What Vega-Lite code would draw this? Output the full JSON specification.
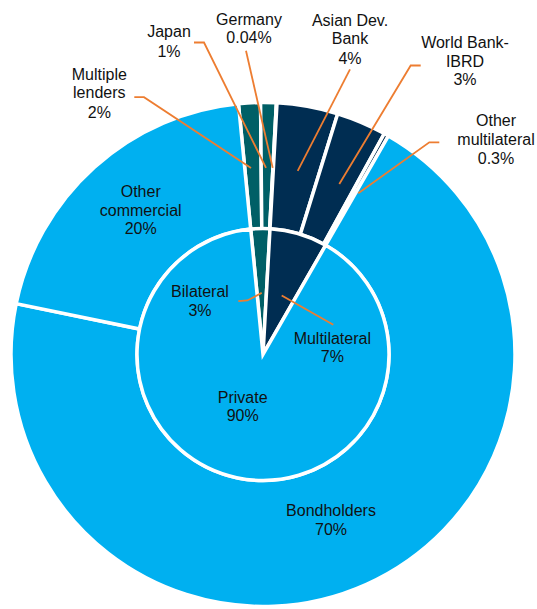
{
  "$schema": "https://vega.github.io/schema/vega-lite/v6.json",
  "width": 537,
  "height": 609,
  "padding": 0,
  "autosize": {"type": "fit", "contains": "padding"},
  "config": {"view": {"stroke": null}, "font": "Liberation Sans"},
  "datasets": {
    "inner": [
      {"name": "Bilateral", "group": "bilateral", "value": 2.44, "ord": 1},
      {"name": "Multilateral", "group": "multilateral", "value": 7.4, "ord": 2},
      {"name": "Private", "group": "private", "value": 90.1, "ord": 3}
    ],
    "outer": [
      {"name": "Multiple lenders", "group": "bilateral", "value": 1.4, "ord": 1},
      {"name": "Japan", "group": "bilateral", "value": 1.0, "ord": 2},
      {"name": "Germany", "group": "bilateral", "value": 0.04, "ord": 3},
      {"name": "Asian Dev. Bank", "group": "multilateral", "value": 3.9, "ord": 4},
      {"name": "World Bank-IBRD", "group": "multilateral", "value": 3.2, "ord": 5},
      {"name": "Other multilateral", "group": "multilateral", "value": 0.3, "ord": 6},
      {"name": "Bondholders", "group": "private", "value": 69.9, "ord": 7},
      {"name": "Other commercial", "group": "private", "value": 20.2, "ord": 8}
    ],
    "labels": [
      {"label": "Germany", "x": -14, "y": 341},
      {"label": "0.04%", "x": -14, "y": 322},
      {"label": "Japan", "x": -94, "y": 328},
      {"label": "1%", "x": -94, "y": 308},
      {"label": "Asian Dev.", "x": 87, "y": 340},
      {"label": "Bank", "x": 87, "y": 321},
      {"label": "4%", "x": 87, "y": 301},
      {"label": "World Bank-", "x": 202, "y": 317.7},
      {"label": "IBRD", "x": 202, "y": 298.3},
      {"label": "3%", "x": 202, "y": 279.3},
      {"label": "Other", "x": 233, "y": 237.7},
      {"label": "multilateral", "x": 233, "y": 218.3},
      {"label": "0.3%", "x": 233, "y": 199.3},
      {"label": "Multiple", "x": -163.7, "y": 285},
      {"label": "lenders", "x": -163.7, "y": 266},
      {"label": "2%", "x": -163.7, "y": 246},
      {"label": "Other", "x": -122.3, "y": 165},
      {"label": "commercial", "x": -122.3, "y": 146},
      {"label": "20%", "x": -122.3, "y": 128},
      {"label": "Bilateral", "x": -63, "y": 63.3},
      {"label": "3%", "x": -63, "y": 44.3},
      {"label": "Multilateral", "x": 69.3, "y": 16},
      {"label": "7%", "x": 69.3, "y": -3},
      {"label": "Private", "x": -20.3, "y": -44},
      {"label": "90%", "x": -20.3, "y": -62.3},
      {"label": "Bondholders", "x": 68, "y": -159.7},
      {"label": "70%", "x": 68, "y": -179}
    ],
    "leaders": [
      {"g": "Multiple lenders", "i": 0, "x": -128.7, "y": 262},
      {"g": "Multiple lenders", "i": 1, "x": -119, "y": 262},
      {"g": "Multiple lenders", "i": 2, "x": -12, "y": 190},
      {"g": "Japan", "i": 0, "x": -69, "y": 317.7},
      {"g": "Japan", "i": 1, "x": -59, "y": 317.7},
      {"g": "Japan", "i": 2, "x": 3, "y": 190},
      {"g": "Germany", "i": 0, "x": -17, "y": 309.3},
      {"g": "Germany", "i": 1, "x": 9.7, "y": 190},
      {"g": "ADB", "i": 0, "x": 87, "y": 290.3},
      {"g": "ADB", "i": 1, "x": 34.7, "y": 187},
      {"g": "WB", "i": 0, "x": 157.7, "y": 294.3},
      {"g": "WB", "i": 1, "x": 147.7, "y": 294.3},
      {"g": "WB", "i": 2, "x": 76.3, "y": 173.7},
      {"g": "OML", "i": 0, "x": 176.3, "y": 216},
      {"g": "OML", "i": 1, "x": 166.3, "y": 216},
      {"g": "OML", "i": 2, "x": 95.3, "y": 164.3},
      {"g": "Bilateral", "i": 0, "x": -24.7, "y": 54.3},
      {"g": "Bilateral", "i": 1, "x": -15.7, "y": 55},
      {"g": "Bilateral", "i": 2, "x": -1.3, "y": 62.7},
      {"g": "Multilateral", "i": 0, "x": 18.7, "y": 60},
      {"g": "Multilateral", "i": 1, "x": 70.3, "y": 30.3}
    ]
  },
  "layer": [
    {
      "data": {"name": "outer"},
      "mark": {"type": "arc", "innerRadius": 126, "outerRadius": 252, "stroke": "white", "strokeWidth": 3.5},
      "encoding": {
        "x": {"datum": 0, "type": "quantitative", "scale": {"domain": [-263, 274], "nice": false, "zero": false}, "axis": null},
        "y": {"datum": 0, "type": "quantitative", "scale": {"domain": [-248, 361], "nice": false, "zero": false}, "axis": null},
        "theta": {"field": "value", "type": "quantitative", "stack": true, "scale": {"range": [-0.0977, 6.1855]}},
        "order": {"field": "ord", "type": "quantitative"},
        "detail": {"field": "name"},
        "color": {"field": "group", "type": "nominal", "scale": {"domain": ["private", "multilateral", "bilateral"], "range": ["#00B0F0", "#002D52", "#005F66"]}, "legend": null}
      }
    },
    {
      "data": {"name": "inner"},
      "mark": {"type": "arc", "innerRadius": 0, "outerRadius": 126, "stroke": "white", "strokeWidth": 3.5},
      "encoding": {
        "x": {"datum": 0, "type": "quantitative", "scale": {"domain": [-263, 274], "nice": false, "zero": false}, "axis": null},
        "y": {"datum": 0, "type": "quantitative", "scale": {"domain": [-248, 361], "nice": false, "zero": false}, "axis": null},
        "theta": {"field": "value", "type": "quantitative", "stack": true, "scale": {"range": [-0.0977, 6.1855]}},
        "order": {"field": "ord", "type": "quantitative"},
        "detail": {"field": "name"},
        "color": {"field": "group", "type": "nominal", "scale": {"domain": ["private", "multilateral", "bilateral"], "range": ["#00B0F0", "#002D52", "#005F66"]}, "legend": null}
      }
    },
    {
      "data": {"name": "leaders"},
      "mark": {"type": "line", "color": "#ED7D31", "strokeWidth": 1.8},
      "encoding": {
        "x": {"field": "x", "type": "quantitative", "scale": {"domain": [-263, 274], "nice": false, "zero": false}, "axis": null},
        "y": {"field": "y", "type": "quantitative", "scale": {"domain": [-248, 361], "nice": false, "zero": false}, "axis": null},
        "detail": {"field": "g"},
        "order": {"field": "i", "type": "quantitative"}
      }
    },
    {
      "data": {"name": "labels"},
      "mark": {"type": "text", "align": "center", "baseline": "middle", "fontSize": 16, "color": "#111111"},
      "encoding": {
        "x": {"field": "x", "type": "quantitative", "scale": {"domain": [-263, 274], "nice": false, "zero": false}, "axis": null},
        "y": {"field": "y", "type": "quantitative", "scale": {"domain": [-248, 361], "nice": false, "zero": false}, "axis": null},
        "text": {"field": "label"}
      }
    }
  ],
  "resolve": {"scale": {"theta": "independent", "color": "shared"}}
}
